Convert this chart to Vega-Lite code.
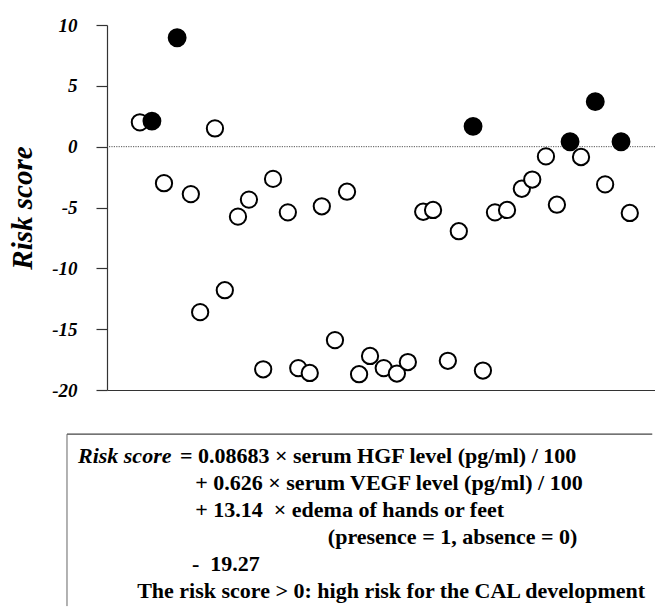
{
  "$schema": "https://vega.github.io/schema/vega-lite/v6.json",
  "width": 548,
  "height": 365,
  "autosize": {"type": "none"},
  "padding": {"left": 107, "top": 25, "right": 0, "bottom": 218},
  "background": "white",
  "config": {
    "view": {"stroke": null},
    "axisX": {"ticks": false, "labels": false, "grid": false, "domainColor": "#333", "domainWidth": 1.2}
  },
  "datasets": {
    "cases": [
      {"pos": 6.0, "score": 2.0, "risk": "low"},
      {"pos": 10.4, "score": -3.0, "risk": "low"},
      {"pos": 15.3, "score": -3.9, "risk": "low"},
      {"pos": 17.0, "score": -13.6, "risk": "low"},
      {"pos": 19.7, "score": 1.5, "risk": "low"},
      {"pos": 21.5, "score": -11.8, "risk": "low"},
      {"pos": 23.9, "score": -5.75, "risk": "low"},
      {"pos": 25.9, "score": -4.35, "risk": "low"},
      {"pos": 28.5, "score": -18.3, "risk": "low"},
      {"pos": 30.3, "score": -2.65, "risk": "low"},
      {"pos": 33.0, "score": -5.4, "risk": "low"},
      {"pos": 34.9, "score": -18.2, "risk": "low"},
      {"pos": 37.0, "score": -18.6, "risk": "low"},
      {"pos": 39.2, "score": -4.9, "risk": "low"},
      {"pos": 41.6, "score": -15.9, "risk": "low"},
      {"pos": 43.8, "score": -3.7, "risk": "low"},
      {"pos": 46.0, "score": -18.7, "risk": "low"},
      {"pos": 48.0, "score": -17.2, "risk": "low"},
      {"pos": 50.5, "score": -18.2, "risk": "low"},
      {"pos": 52.9, "score": -18.65, "risk": "low"},
      {"pos": 54.9, "score": -17.7, "risk": "low"},
      {"pos": 57.7, "score": -5.35, "risk": "low"},
      {"pos": 59.5, "score": -5.2, "risk": "low"},
      {"pos": 62.2, "score": -17.6, "risk": "low"},
      {"pos": 64.2, "score": -6.95, "risk": "low"},
      {"pos": 68.6, "score": -18.4, "risk": "low"},
      {"pos": 70.8, "score": -5.4, "risk": "low"},
      {"pos": 73.0, "score": -5.2, "risk": "low"},
      {"pos": 75.7, "score": -3.46, "risk": "low"},
      {"pos": 77.6, "score": -2.7, "risk": "low"},
      {"pos": 80.1, "score": -0.8, "risk": "low"},
      {"pos": 82.1, "score": -4.77, "risk": "low"},
      {"pos": 86.5, "score": -0.85, "risk": "low"},
      {"pos": 90.9, "score": -3.1, "risk": "low"},
      {"pos": 95.4, "score": -5.45, "risk": "low"},
      {"pos": 8.2, "score": 2.1, "risk": "high"},
      {"pos": 12.8, "score": 8.95, "risk": "high"},
      {"pos": 66.8, "score": 1.67, "risk": "high"},
      {"pos": 84.5, "score": 0.4, "risk": "high"},
      {"pos": 89.1, "score": 3.7, "risk": "high"},
      {"pos": 93.8, "score": 0.4, "risk": "high"}
    ],
    "formula": [
      {"line": 1, "part": "label", "indent": -5.3, "text": "Risk score"},
      {"line": 1, "part": "term", "indent": 13.3, "text": "= 0.08683 × serum HGF level (pg/ml) / 100"},
      {"line": 2, "part": "term", "indent": 16.1, "text": "+ 0.626 × serum VEGF level (pg/ml) / 100"},
      {"line": 3, "part": "term", "indent": 16.1, "text": "+ 13.14\u00a0\u00a0× edema of hands or feet"},
      {"line": 4, "part": "term", "indent": 40.3, "text": "(presence = 1, absence = 0)"},
      {"line": 5, "part": "term", "indent": 15.5, "text": "-\u00a0\u00a019.27"},
      {"line": 6, "part": "note", "indent": 5.5, "text": "The risk score > 0: high risk for the CAL development"}
    ]
  },
  "layer": [
    {
      "layer": [
        {
          "data": {"values": [{}]},
          "mark": {"type": "rule", "strokeDash": [1.2, 1.2], "color": "#555", "strokeWidth": 1},
          "encoding": {"y": {"datum": 0, "scale": {"domain": [-20, 10]}}}
        },
        {
          "data": {"name": "cases"},
          "mark": {"type": "point", "shape": "circle", "filled": true, "stroke": "black", "strokeWidth": 2, "opacity": 1},
          "encoding": {
            "x": {"field": "pos", "type": "quantitative", "scale": {"domain": [0, 100]}, "title": null},
            "y": {
              "field": "score", "type": "quantitative", "scale": {"domain": [-20, 10]}, "title": "Risk score",
              "axis": {
                "values": [-20, -17.5, -15, -12.5, -10, -7.5, -5, -2.5, 0, 2.5, 5, 7.5, 10],
                "labelExpr": "datum.value % 5 === 0 ? '' + datum.value : ''",
                "tickSize": {"condition": {"test": "datum.value % 5 === 0", "value": 11}, "value": 5},
                "labelFont": "Liberation Serif", "labelFontSize": 19, "labelFontStyle": "italic", "labelFontWeight": "bold", "labelColor": "black",
                "labelPadding": 19, "labelOverlap": false, "labelBound": false, "labelFlush": false,
                "titleFont": "Liberation Serif", "titleFontSize": 29, "titleFontStyle": "italic", "titleFontWeight": "bold", "titleColor": "black",
                "titlePadding": 14, "grid": false, "domainColor": "#333", "domainWidth": 1.2, "tickColor": "#333", "tickWidth": 1.2
              }
            },
            "fill": {"field": "risk", "type": "nominal", "scale": {"domain": ["low", "high"], "range": ["white", "black"]}, "legend": null},
            "size": {"field": "risk", "type": "ordinal", "scale": {"domain": ["low", "high"], "range": [265, 285]}, "legend": null}
          }
        }
      ]
    },
    {
      "layer": [
        {
          "data": {"name": "formula"},
          "transform": [{"filter": "datum.part === 'label'"}],
          "mark": {"type": "text", "align": "left", "baseline": "alphabetic", "font": "Liberation Serif", "fontSize": 22, "fontWeight": "bold", "fontStyle": "italic", "color": "black"},
          "encoding": {
            "x": {"field": "indent", "type": "quantitative", "scale": {"domain": [0, 100]}, "title": null},
            "y": {"field": "line", "type": "quantitative", "scale": {"domain": [1, 6], "range": [438, 573]}, "axis": null},
            "text": {"field": "text"}
          }
        },
        {
          "data": {"name": "formula"},
          "transform": [{"filter": "datum.part !== 'label'"}],
          "mark": {"type": "text", "align": "left", "baseline": "alphabetic", "font": "Liberation Serif", "fontSize": 22, "fontWeight": "bold", "color": "black"},
          "encoding": {
            "x": {"field": "indent", "type": "quantitative", "scale": {"domain": [0, 100]}, "title": null},
            "y": {"field": "line", "type": "quantitative", "scale": {"domain": [1, 6], "range": [438, 573]}, "axis": null},
            "text": {"field": "text"}
          }
        },
        {
          "data": {"values": [{}]},
          "mark": {"type": "rule", "color": "#444", "strokeWidth": 1.2},
          "encoding": {
            "x": {"datum": -7.3, "scale": {"domain": [0, 100]}},
            "x2": {"datum": 99.5},
            "y": {"datum": -0.07, "scale": {"domain": [1, 6], "range": [438, 573]}, "axis": null}
          }
        },
        {
          "data": {"values": [{}]},
          "mark": {"type": "rule", "color": "#666", "strokeWidth": 1},
          "encoding": {
            "x": {"datum": -7.3, "scale": {"domain": [0, 100]}},
            "y": {"datum": -0.07, "scale": {"domain": [1, 6], "range": [438, 573]}, "axis": null},
            "y2": {"datum": 6.3}
          }
        }
      ]
    }
  ],
  "resolve": {"scale": {"y": "independent"}, "axis": {"y": "independent"}}
}
